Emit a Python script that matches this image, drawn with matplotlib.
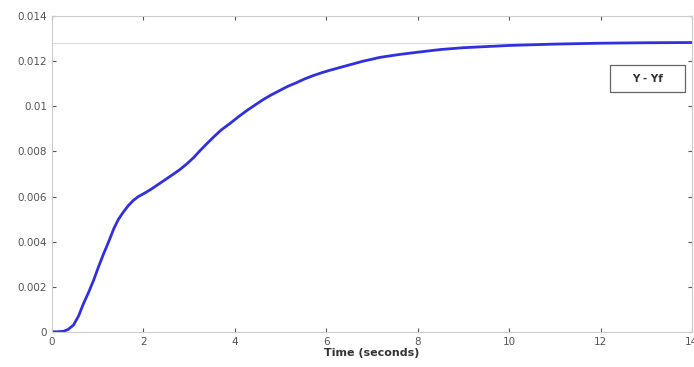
import numpy as np
import matplotlib.pyplot as plt
from matplotlib.patches import Rectangle

# response
t = np.array([0, 0.1, 0.25, 0.35, 0.47, 0.58, 0.69, 0.8, 0.91, 1.02, 1.13, 1.24,
              1.35, 1.45, 1.56, 1.67, 1.78, 1.89, 2.0, 2.15, 2.29, 2.45, 2.66,
              2.8, 2.95, 3.1, 3.24, 3.38, 3.53, 3.7, 3.9, 4.08, 4.26, 4.45, 4.62,
              4.8, 4.98, 5.15, 5.35, 5.52, 5.71, 5.9, 6.08, 6.26, 6.44, 6.62,
              6.8, 7.0, 7.17, 7.4, 7.6, 7.8, 8.0, 8.5, 9.0, 9.5, 10.0, 10.5,
              11.0, 12.0, 13.0, 14.0])
y = np.array([0, 0.0, 0.00002, 0.0001, 0.0003, 0.0007, 0.00126, 0.00175, 0.00229,
              0.0029, 0.00347, 0.0040, 0.00457, 0.00498, 0.00531, 0.0056,
              0.00583, 0.006, 0.00612, 0.0063, 0.00649, 0.00671, 0.0070, 0.0072,
              0.00745, 0.00773, 0.00804, 0.00833, 0.00863, 0.00895, 0.00925,
              0.00954, 0.00981, 0.01007, 0.0103, 0.01051, 0.0107, 0.01088,
              0.01105, 0.01121, 0.01136, 0.01149, 0.0116, 0.0117, 0.0118,
              0.0119, 0.01200, 0.01209, 0.01217, 0.01224, 0.0123, 0.01235, 0.0124,
              0.01252, 0.0126, 0.01265, 0.0127, 0.01273, 0.01276, 0.0128,
              0.01282, 0.01283])
y_final = 0.01283
xticks = [0, 2, 4, 6, 8, 10, 12, 14]
yticks = [0, 0.002, 0.004, 0.006, 0.008, 0.01, 0.012, 0.014]
yticklabels = ['0', '0.002', '0.004', '0.006', '0.008', '0.01', '0.012', '0.014']

fig = plt.figure(figsize=(6.94, 3.67), dpi=100)
ax = fig.add_axes([0.075, 0.096, 0.922, 0.86])

ax.axhline(y_final, color='#dddddd', linewidth=0.8)
ax.plot(t, y, color='#3030e0', linewidth=2)

ax.set_xlim(0, 14)
ax.set_ylim(0, 0.014)
ax.set_xticks(xticks)
ax.set_yticks(yticks)
ax.set_yticklabels(yticklabels)
ax.tick_params(direction='in', top=True, right=True, labelsize=7.5,
               colors='#555555', length=3)
for s in ax.spines.values():
    s.set_color('#cccccc')
ax.set_xlabel('Time (seconds)', fontsize=8, fontweight='bold', color='#333333', labelpad=1)

# legend box
ax.add_patch(Rectangle((0.872, 0.759), 0.117, 0.086, transform=ax.transAxes,
                       fc='white', ec='#666666', lw=0.9, zorder=5))
ax.text(0.9305, 0.802, 'Y - Yf', transform=ax.transAxes, fontsize=7.5,
        fontweight='bold', color='#333333', ha='center', va='center', zorder=6)

fig.savefig('out.png', dpi=100)
